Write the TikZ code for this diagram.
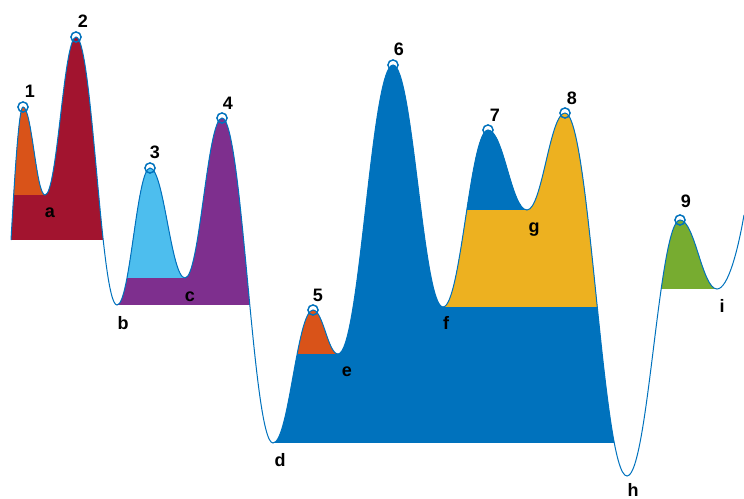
\documentclass[tikz,border=0pt]{standalone}
\usepackage{fontspec}
\setmainfont{Liberation Sans}
\usepackage{tikz}
\usetikzlibrary{calc}
\definecolor{peakBlue}{RGB}{0, 114, 189}
\definecolor{peakOrange}{RGB}{217, 83, 25}
\definecolor{peakYellow}{RGB}{237, 177, 32}
\definecolor{peakPurple}{RGB}{126, 47, 142}
\definecolor{peakGreen}{RGB}{119, 172, 48}
\definecolor{peakCyan}{RGB}{77, 190, 238}
\definecolor{peakRed}{RGB}{162, 20, 47}

% the signal, from extremum to extremum
\newcommand{\signalpath}{(S) .. controls (15,170) and (19,107) .. (P1)
  to[wave] (A) to[wave] (P2) to[wave] (B) to[wave] (P3) to[wave] (C)
  to[wave] (P4) to[wave] (D) to[wave] (P5) to[wave] (E) to[wave] (P6)
  to[wave] (F) to[wave] (P7) to[wave] (G) to[wave] (P8) to[wave] (H)
  to[wave] (P9) to[wave] (I) .. controls (728,289) and (738,250) .. (Z)}

\begin{document}
\begin{tikzpicture}[x=0.75pt, y=-0.75pt,
  wave/.style={to path={let \p1=(\tikztostart), \p2=(\tikztotarget) in
      .. controls ({\x1+0.4*(\x2-\x1)},\y1) and ({\x2-0.4*(\x2-\x1)},\y2)
      .. (\tikztotarget) \tikztonodes}},
  sigline/.style={draw=peakBlue, line width=0.75pt},
  peakmark/.style={draw=peakBlue, line width=1.1pt},
  lbl/.style={anchor=base, inner sep=0pt,
              font=\fontsize{13.5}{16}\selectfont\bfseries},
]
  \useasboundingbox (0,0) rectangle (744,499);

  % extrema of the signal
  \coordinate (S) at (11,240);
  \coordinate (P1) at (23,107);
  \coordinate (A) at (45,195);
  \coordinate (P2) at (76,37);
  \coordinate (B) at (117,305);
  \coordinate (P3) at (150,168);
  \coordinate (C) at (185,278);
  \coordinate (P4) at (222,118);
  \coordinate (D) at (273,443);
  \coordinate (P5) at (313,310);
  \coordinate (E) at (338,354);
  \coordinate (P6) at (393,65);
  \coordinate (F) at (443,307);
  \coordinate (P7) at (488,130);
  \coordinate (G) at (527,210);
  \coordinate (P8) at (565,113);
  \coordinate (H) at (627,476);
  \coordinate (P9) at (680,220);
  \coordinate (I) at (717,289);
  \coordinate (Z) at (744,215);
  \coordinate (floor) at (0,510);

  % prominence areas
  \begin{scope}
    \clip \signalpath -- (Z |- floor) -- (S |- floor) -- cycle;
    \fill[peakRed] (S) rectangle (B |- P2);
    \fill[peakOrange] (S |- A) rectangle (A |- P1);
    \fill[peakPurple] (B) rectangle (D |- P4);
    \fill[peakCyan] (B |- C) rectangle (C |- P3);
    \fill[peakBlue] (D) rectangle (H |- P6);
    \fill[peakOrange] (D |- E) rectangle (E |- P5);
    \fill[peakYellow] (F) rectangle (H |- P8);
    \fill[peakBlue] (F |- G) rectangle (G |- P7);
    \fill[peakGreen] (H |- I) rectangle (I |- P9);
  \end{scope}

  \draw[sigline] \signalpath;

  % peak markers
  \draw[peakmark] (P1) circle[radius=3.8pt];
  \draw[peakmark] (P2) circle[radius=3.8pt];
  \draw[peakmark] (P3) circle[radius=3.8pt];
  \draw[peakmark] (P4) circle[radius=3.8pt];
  \draw[peakmark] (P5) circle[radius=3.8pt];
  \draw[peakmark] (P6) circle[radius=3.8pt];
  \draw[peakmark] (P7) circle[radius=3.8pt];
  \draw[peakmark] (P8) circle[radius=3.8pt];
  \draw[peakmark] (P9) circle[radius=3.8pt];

  % peak labels
  \node[lbl] (n1) at (30,98) {1};
  \node[lbl] (n2) at (83,28) {2};
  \node[lbl] (n3) at (155,159) {3};
  \node[lbl] (n4) at (228,110) {4};
  \node[lbl] (n5) at (318,302) {5};
  \node[lbl] (n6) at (399,56) {6};
  \node[lbl] (n7) at (495,122) {7};
  \node[lbl] (n8) at (572,105) {8};
  \node[lbl] (n9) at (686,208) {9};

  % valley labels
  \node[lbl] (va) at (50,218) {a};
  \node[lbl] (vb) at (123,330) {b};
  \node[lbl] (vc) at (190,302) {c};
  \node[lbl] (vd) at (280,467) {d};
  \node[lbl] (ve) at (347,377) {e};
  \node[lbl] (vf) at (446,330) {f};
  \node[lbl] (vg) at (534,233) {g};
  \node[lbl] (vh) at (633,497) {h};
  \node[lbl] (vi) at (722,313) {i};
\end{tikzpicture}
\end{document}
